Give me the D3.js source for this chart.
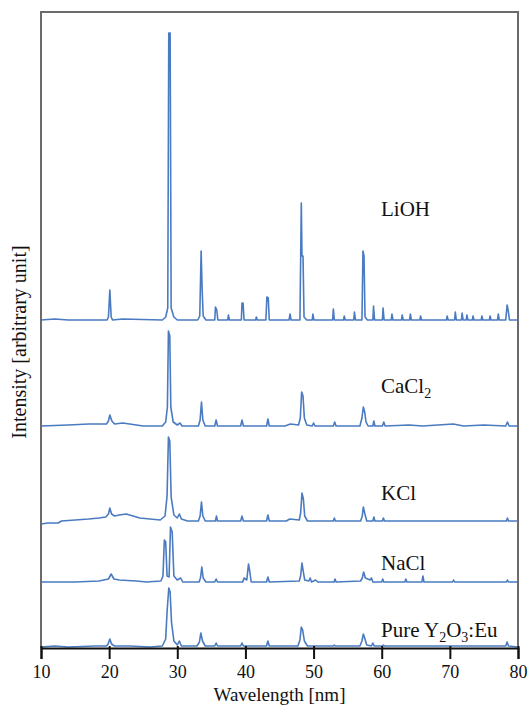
<!DOCTYPE html>
<html>
<head>
<meta charset="utf-8">
<script src="https://cdn.jsdelivr.net/npm/d3@7/dist/d3.min.js"></script>
<style>
  body { margin: 0; background: #fff; }
</style>
</head>
<body>
<div class="xrd-chart"></div>
<script>
// samples top -> bottom, "_2" means subscript 2
const samples = ['LiOH', 'CaCl_2', 'KCl', 'NaCl', 'Pure Y_2O_3:Eu'];
// vertical shift of each pattern (arbitrary units)
const offsets = [328, 222, 127, 66, 1];
// where the name sits, height above its own baseline
const label_heights = [104, 33, 21, 12, 10];
const label_pos = 59.9;
const x_ticks = [10, 20, 30, 40, 50, 60, 70, 80];

// patterns: [position, intensity above baseline]
const lioh = [[10,0],[12,1],[14,0],[19.7,0],[19.9,3],[20.1,30],[20.3,3],[20.5,0],[22,1],[27.8,0],[28.3,3],[28.6,12],
  [28.75,287],[28.95,287],[29.1,12],[29.5,3],[30,0],[33.0,0],[33.3,4],[33.5,69],[33.65,30],[33.8,4],[34.2,0],
  [35.5,0],[35.6,13],[35.8,10],[35.95,0],[37.4,0],[37.5,5],[37.65,0],[39.4,0],[39.5,17],[39.65,17],[39.8,0],
  [41.5,0],[41.6,3],[41.75,0],[43.0,0],[43.15,23],[43.35,22],[43.5,0],[46.4,0],[46.55,6],[46.7,0],
  [48.0,0],[48.2,117],[48.3,64],[48.45,64],[48.6,3],[49.0,0],[49.8,0],[49.9,6],[50.05,0],[52.8,0],[52.9,11],[53.05,0],
  [54.4,0],[54.5,4],[54.65,0],[55.9,0],[56.0,8],[56.15,0],[57.1,0],[57.25,69],[57.4,64],[57.55,3],[57.9,0],
  [58.7,0],[58.8,14],[58.95,0],[60.1,0],[60.2,12],[60.35,0],[61.4,0],[61.5,6],[61.65,0],[62.9,0],[63.0,5],[63.15,0],
  [64.1,0],[64.2,6],[64.35,0],[65.6,0],[65.7,4],[65.85,0],[69.5,0],[69.6,4],[69.75,0],[70.7,0],[70.8,8],[70.95,0],
  [71.7,0],[71.8,7],[71.95,0],[72.4,0],[72.5,5],[72.65,0],[73.3,0],[73.4,4],[73.55,0],[74.6,0],[74.7,4],[74.85,0],
  [75.8,0],[75.9,4],[76.05,0],[77.0,0],[77.1,6],[77.25,0],[78.2,0],[78.4,15],[78.55,10],[78.75,0],[80,0]];

const cacl2 = [[10,0],[14,1],[17,2],[19.6,2],[19.9,5],[20.1,11],[20.4,5],[20.8,2],[22,3],[23,2],[25,0],[27.8,0],
  [28.3,4],[28.55,19],[28.7,95],[28.9,90],[29.05,19],[29.4,4],[30,1],[30.4,3],[30.7,0],[33.1,0],[33.35,6],[33.55,24],
  [33.75,6],[34.1,0],[35.5,0],[35.7,6],[35.9,0],[39.3,0],[39.5,6],[39.7,0],[43.1,0],[43.3,7],[43.5,0],[45.8,0],[46.6,2],
  [47.8,1],[48.05,8],[48.25,34],[48.45,30],[48.65,8],[49.0,1],[49.8,0],[50.0,3],[50.2,0],[52.9,0],[53.1,4],[53.3,0],
  [56.8,0],[57.1,8],[57.3,19],[57.5,14],[57.7,4],[58.0,0],[58.7,0],[58.85,5],[59.0,0],[60.1,0],[60.3,4],[60.5,0],
  [64,1],[66,0],[70.5,2],[72,0],[75,1],[78.2,0],[78.45,4],[78.7,0],[80,0]];

const kcl = [[10,-3],[11,-2],[12.5,-2],[13,0],[15,1],[17,2],[18.5,3],[19.5,4],[19.9,7],[20.1,13],[20.35,7],[20.8,5],
  [21.5,6],[22.5,7],[23.5,5],[24.5,3],[26,2],[27.5,1],[28.2,5],[28.5,25],[28.7,84],[28.9,80],[29.1,24],[29.5,6],
  [30.0,3],[30.3,7],[30.6,2],[31.5,0],[33.1,0],[33.35,5],[33.55,19],[33.75,5],[34.1,0],[35.6,0],[35.75,5],[35.9,0],
  [39.3,0],[39.5,5],[39.7,0],[43.1,0],[43.3,6],[43.5,0],[46,0],[46.5,2],[47.9,1],[48.1,8],[48.3,28],[48.5,22],
  [48.7,5],[49.1,0],[52.9,0],[53.05,3],[53.2,0],[56.9,0],[57.15,5],[57.3,14],[57.5,8],[57.8,0],[58.7,0],[58.85,4],
  [59.0,0],[60.1,0],[60.25,3],[60.4,0],[78.3,0],[78.45,3],[78.6,0],[80,0]];

const nacl = [[10,0],[15,0],[18.5,1],[19.9,3],[20.3,8],[20.7,3],[21.5,2],[24,1],[25.5,0],[27.6,1],[27.9,6],[28.1,42],
  [28.3,40],[28.5,6],[28.8,5],[29.0,55],[29.25,50],[29.5,6],[30.0,2],[30.5,4],[30.8,0],[33.2,0],[33.4,4],[33.6,15],
  [33.8,4],[34.2,0],[35.5,0],[35.7,3],[35.9,0],[39.6,0],[39.8,4],[40.2,2],[40.45,18],[40.65,10],[40.85,0],[43.1,0],
  [43.3,5],[43.5,0],[47.9,1],[48.1,6],[48.3,19],[48.5,10],[48.7,2],[49.3,1],[49.5,4],[49.7,0],[50.3,2],[50.6,0],
  [53,0],[53.15,3],[53.3,0],[56.9,1],[57.15,4],[57.35,10],[57.6,4],[58.3,2],[58.5,4],[58.7,0],[60,0],[60.15,3],
  [60.3,0],[63.4,0],[63.55,3],[63.7,0],[65.9,0],[66.05,6],[66.2,0],[70.4,0],[70.55,2],[70.7,0],[78.3,0],[78.45,2],
  [78.6,0],[80,0]];

const pure = [[10,0],[12,1],[14,0],[18,1],[19.6,1],[19.85,3],[20.1,8],[20.35,3],[20.8,1],[23,1],[26,0],[27.8,1],
  [28.3,8],[28.5,35],[28.75,59],[28.95,55],[29.15,25],[29.5,6],[30.0,2],[30.3,6],[30.6,1],[32.9,1],[33.25,5],
  [33.45,14],[33.7,6],[34.1,1],[35.5,1],[35.7,4],[35.9,1],[39.3,1],[39.5,4],[39.7,1],[43.1,1],[43.3,6],[43.5,1],
  [47.7,1],[48.0,7],[48.2,20],[48.4,17],[48.65,6],[49.1,1],[52.9,1],[53.05,2],[53.2,1],[56.8,1],[57.1,6],[57.3,13],
  [57.5,9],[57.8,2],[58.5,1],[58.7,4],[58.9,1],[60.1,1],[60.25,2],[60.4,1],[66,1],[70,1],[75,1],[78.2,1],[78.4,5],
  [78.6,1],[80,0]];

const patterns = [lioh, cacl2, kcl, nacl, pure];

const SERIF = "'Liberation Serif', Tinos, 'DejaVu Serif', 'Times New Roman', serif";

class XrdPlot {
  constructor(pointer) {
    this.pointer = pointer;
    this.init();
  }

  init() {
    this.margin = { top: 12, right: 12, bottom: 57, left: 41 };
    this.graph_w = 530 - this.margin.left - this.margin.right;
    this.graph_h = 705 - this.margin.top - this.margin.bottom;

    this.svg = d3.select(this.pointer).append('svg')
      .attr('width', 530)
      .attr('height', 705)
      .attr('font-family', SERIF);

    this.graph = this.svg.append('g')
      .attr('transform', `translate(${this.margin.left}, ${this.margin.top})`);

    // scales
    this.x = d3.scaleLinear().domain([10, 80]).range([0, this.graph_w]);
    this.y = d3.scaleLinear().domain([0, this.graph_h]).range([this.graph_h, 0]);

    this.lines_group = this.graph.append('g').attr('class', 'patterns');
    this.labels_group = this.graph.append('g').attr('class', 'labels');

    // frame (grey on top/left/right, axis line at bottom)
    this.graph.append('path')
      .attr('d', `M0,${this.graph_h} V0 H${this.graph_w} V${this.graph_h}`)
      .attr('fill', 'none')
      .attr('stroke', '#6b6b6b')
      .attr('stroke-width', 2);

    this.x_axis_group = this.graph.append('g')
      .attr('class', 'x-axis')
      .attr('transform', `translate(0, ${this.graph_h})`);
  }

  update(data) {
    const line = d3.line()
      .x(d => this.x(d[0]))
      .y(d => this.y(d[1]));

    this.lines_group.selectAll('path')
      .data(data)
      .enter()
      .append('path')
      .attr('fill', 'none')
      .attr('stroke', '#4a7bc1')
      .attr('stroke-width', 1.6)
      .attr('stroke-linejoin', 'round')
      .attr('d', (d, i) => line(d.map(p => [p[0], p[1] + offsets[i]])));

    // sample names, with subscripts
    const labels = this.labels_group.selectAll('text')
      .data(samples)
      .enter()
      .append('text')
      .attr('x', this.x(label_pos))
      .attr('y', (d, i) => this.y(offsets[i] + label_heights[i]))
      .attr('font-family', SERIF)
      .attr('font-size', 21)
      .attr('fill', '#111');
    labels.each(function (d) {
      const txt = d3.select(this);
      let sub = false;
      d.split(/(_\d)/).filter(s => s.length).forEach(part => {
        if (part[0] === '_') {
          txt.append('tspan').attr('font-size', 14).attr('dy', 5).text(part.slice(1));
          sub = true;
        } else {
          txt.append('tspan').attr('dy', sub ? -5 : 0).text(part);
          sub = false;
        }
      });
    });

    // x axis
    const x_axis = d3.axisBottom(this.x)
      .tickValues(x_ticks)
      .tickSizeOuter(0)
      .tickSize(11)
      .tickPadding(6)
      .tickFormat(d3.format('d'));
    this.x_axis_group.call(x_axis)
      .attr('font-family', SERIF);
    this.x_axis_group.select('.domain')
      .attr('stroke', '#111')
      .attr('stroke-width', 2);
    this.x_axis_group.selectAll('.tick line')
      .attr('stroke', '#111')
      .attr('stroke-width', 2)
      .attr('y1', -2);
    this.x_axis_group.selectAll('.tick text')
      .attr('font-family', SERIF)
      .attr('font-size', 18)
      .attr('fill', '#111');

    // axis titles
    this.svg.append('text')
      .attr('x', this.margin.left + this.graph_w / 2)
      .attr('y', 701)
      .attr('text-anchor', 'middle')
      .attr('font-family', SERIF)
      .attr('font-size', 19)
      .attr('fill', '#111')
      .text('Wavelength [nm]');

    this.svg.append('text')
      .attr('transform', 'translate(26, 342) rotate(-90)')
      .attr('text-anchor', 'middle')
      .attr('font-family', SERIF)
      .attr('font-size', 20)
      .attr('fill', '#111')
      .text('Intensity [arbitrary unit]');
  }
}

const plot = new XrdPlot('.xrd-chart');
plot.update(patterns);
</script>
</body>
</html>
